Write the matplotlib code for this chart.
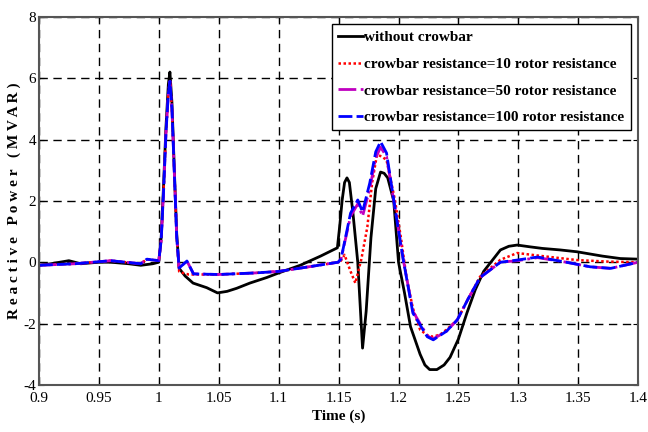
import matplotlib
matplotlib.use("Agg")
from matplotlib import pyplot as plt

plt.rcParams['font.family'] = ['Liberation Serif', 'DejaVu Serif']
plt.rcParams['axes.unicode_minus'] = False

# Black: without crowbar
t_black = [0.9, 0.91, 0.925, 0.935, 0.95, 0.96, 0.975, 0.985, 0.995, 1.0, 1.002, 1.004,
           1.006, 1.008, 1.0093, 1.011, 1.013, 1.015, 1.017, 1.022, 1.0286, 1.04, 1.049,
           1.057, 1.065, 1.076, 1.09, 1.1, 1.118, 1.135, 1.149, 1.151, 1.153, 1.155,
           1.157, 1.159, 1.162, 1.166, 1.170, 1.173, 1.177, 1.181, 1.185, 1.188, 1.191,
           1.196, 1.2, 1.205, 1.21, 1.218, 1.222, 1.226, 1.232, 1.238, 1.243, 1.25,
           1.257, 1.264, 1.271, 1.285, 1.292, 1.299, 1.31, 1.32, 1.335, 1.349, 1.37,
           1.385, 1.4]
q_black = [-0.1, -0.05, 0.05, -0.05, 0.0, 0.0, -0.05, -0.1, -0.05, 0.0, 0.8, 2.5,
           4.4, 5.8, 6.2, 5.2, 3.0, 0.9, -0.2, -0.45, -0.68, -0.83, -1.0,
           -0.95, -0.85, -0.68, -0.5, -0.35, -0.1, 0.2, 0.47, 1.2, 2.03, 2.6,
           2.75, 2.6, 1.6, 0.0, -2.8, -1.6, 0.8, 2.4, 2.94, 2.9, 2.75,
           2.0, 0.0, -1.0, -2.1, -3.0, -3.35, -3.5, -3.5, -3.35, -3.1, -2.5,
           -1.66, -0.9, -0.3, 0.4, 0.52, 0.56, 0.5, 0.45, 0.4, 0.34, 0.2,
           0.12, 0.1]

# Red: crowbar resistance = 10 rotor resistance
t_red = [0.9, 0.93, 0.96, 0.985, 0.99, 1.0, 1.002, 1.004, 1.006, 1.008, 1.0093, 1.011,
         1.013, 1.015, 1.017, 1.02, 1.025, 1.05, 1.08, 1.1, 1.125, 1.1496, 1.152, 1.155,
         1.16, 1.164, 1.169, 1.174, 1.178, 1.182, 1.186, 1.19, 1.197, 1.202, 1.207,
         1.212, 1.218, 1.224, 1.229, 1.235, 1.24, 1.249, 1.258, 1.268, 1.285, 1.299,
         1.32, 1.349, 1.375, 1.4]
q_red = [-0.1, -0.05, 0.05, -0.05, 0.1, 0.05, 0.7, 2.3, 4.2, 5.5, 5.9, 5.0,
         2.9, 0.8, -0.3, -0.35, -0.4, -0.4, -0.35, -0.3, -0.15, 0.0, 0.05, 0.24,
         -0.3, -0.68, 0.1, 1.15, 2.6, 3.5, 3.45, 3.33, 2.03, 0.8, -0.58,
         -1.5, -2.2, -2.38, -2.43, -2.35, -2.2, -1.88, -1.2, -0.47, 0.08, 0.3,
         0.2, 0.07, 0.02, 0.0]

# Magenta: crowbar resistance = 50 rotor resistance
t_mag = [0.9, 0.93, 0.96, 0.985, 0.99, 1.0, 1.002, 1.004, 1.006, 1.008, 1.0093, 1.011,
         1.013, 1.015, 1.017, 1.0235, 1.029, 1.05, 1.08, 1.1, 1.125, 1.1496, 1.152,
         1.16, 1.166, 1.170, 1.176, 1.181, 1.185, 1.19, 1.199, 1.204, 1.212, 1.224,
         1.229, 1.24, 1.249, 1.258, 1.268, 1.285, 1.299, 1.316, 1.34, 1.36, 1.377, 1.4]
q_mag = [-0.1, -0.05, 0.05, -0.05, 0.1, 0.05, 0.7, 2.3, 4.2, 5.5, 5.9, 5.0,
         2.9, 0.8, -0.19, 0.04, -0.38, -0.4, -0.35, -0.3, -0.15, 0.0, 0.1,
         1.5, 1.9, 1.5, 2.4, 3.4, 3.75, 3.45, 1.3, 0.07, -1.6, -2.4,
         -2.5, -2.25, -1.88, -1.2, -0.5, 0.0, 0.05, 0.15, 0.0, -0.15, -0.2, 0.0]

# Blue: crowbar resistance = 100 rotor resistance
t_blue = [0.9, 0.93, 0.96, 0.985, 0.99, 1.0, 1.002, 1.004, 1.006, 1.008, 1.0093, 1.011,
          1.013, 1.015, 1.017, 1.0235, 1.029, 1.05, 1.08, 1.1, 1.125, 1.1496, 1.152,
          1.16, 1.166, 1.170, 1.176, 1.181, 1.185, 1.19, 1.199, 1.204, 1.212, 1.224,
          1.229, 1.24, 1.249, 1.258, 1.268, 1.285, 1.299, 1.316, 1.34, 1.36, 1.377, 1.4]
q_blue = [-0.1, -0.05, 0.05, -0.05, 0.1, 0.05, 0.7, 2.3, 4.2, 5.5, 5.9, 5.0,
          2.9, 0.8, -0.19, 0.04, -0.38, -0.4, -0.35, -0.3, -0.15, 0.0, 0.1,
          1.6, 2.03, 1.64, 2.58, 3.6, 3.93, 3.56, 1.28, 0.07, -1.66, -2.43,
          -2.53, -2.25, -1.88, -1.2, -0.5, 0.0, 0.07, 0.17, 0.0, -0.15, -0.2, 0.0]

labels = ["without crowbar",
          "crowbar resistance=10 rotor resistance",
          "crowbar resistance=50 rotor resistance",
          "crowbar resistance=100 rotor resistance"]

fig = plt.figure(figsize=(6.48, 4.32), dpi=100)
ax = fig.add_axes([0.06, 0.109, 0.925, 0.852])

ax.plot(t_black, q_black, color='black', linewidth=2, label=labels[0])
ax.plot(t_red, q_red, color='red', linewidth=1.8, linestyle=(0, (1, 1)), label=labels[1])
ax.plot(t_mag, q_mag, color='#c000c0', linewidth=2, linestyle='-.', label=labels[2])
ax.plot(t_blue, q_blue, color='blue', linewidth=2, linestyle=(0, (5, 1.5)), label=labels[3])

ax.set_xlim(0.9, 1.4)
ax.set_ylim(-4, 8)
ax.set_xticks([0.9, 0.95, 1.0, 1.05, 1.1, 1.15, 1.2, 1.25, 1.3, 1.35, 1.4])
ax.set_xticklabels(['0.9', '0.95', '1', '1.05', '1.1', '1.15', '1.2', '1.25', '1.3', '1.35', '1.4'])
ax.set_yticks([-4, -2, 0, 2, 4, 6, 8])
ax.tick_params(direction='in', top=True, right=True, labelsize=11, pad=2)
ax.tick_params(axis='x', pad=5)
ax.grid(True, color='black', linestyle=(0, (6, 4)), linewidth=1)
for s in ax.spines.values():
    s.set_color('#555555')
    s.set_linewidth(1.5)

ax.set_xlabel("Time (s)", fontsize=11, fontweight='bold', labelpad=3)
ax.set_ylabel("R e a c t i v e   P o w e r   ( M V A R )", fontsize=11, fontweight='bold', labelpad=2)

leg = ax.legend(loc='upper right', prop={'weight': 'bold', 'size': 11}, frameon=True,
                fancybox=False, framealpha=1, edgecolor='black', handlelength=1.6,
                handletextpad=0.1, borderpad=0.4, labelspacing=0.85, borderaxespad=0.5)
leg.get_frame().set_linewidth(1)

fig.savefig("out.png", dpi=100)
